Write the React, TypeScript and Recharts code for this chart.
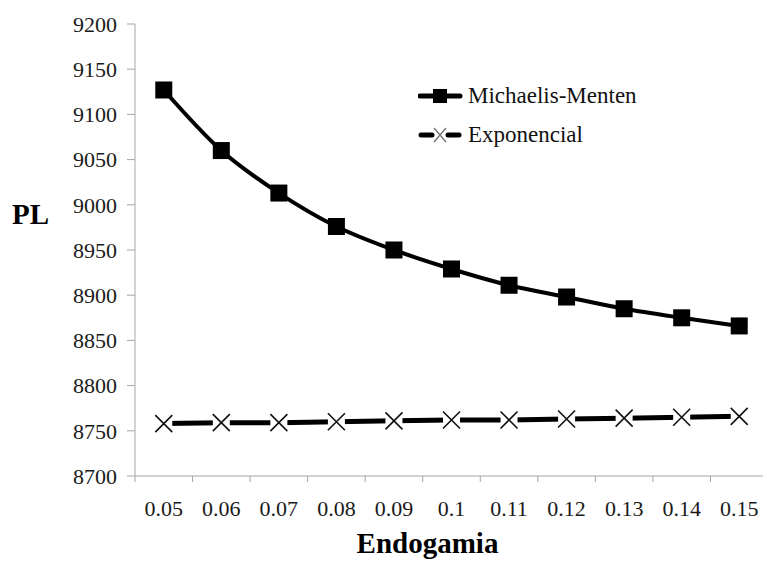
import { LineChart, Line, XAxis, YAxis, Legend, Label } from "recharts";

const categories = ["0.05", "0.06", "0.07", "0.08", "0.09", "0.1", "0.11", "0.12", "0.13", "0.14", "0.15"];
const michaelisMenten = [9127, 9060, 9013, 8976, 8950, 8929, 8911, 8898, 8885, 8875, 8866];
const exponencial = [8758, 8759, 8759, 8760, 8761, 8762, 8762, 8763, 8764, 8765, 8766];
const yTicks = [8700, 8750, 8800, 8850, 8900, 8950, 9000, 9050, 9100, 9150, 9200];
const seriesOrder = ["mm", "exp"];

const data = categories.map((c, i) => ({
  endogamia: c,
  mm: michaelisMenten[i],
  exp: exponencial[i],
}));

const FONT = '"Liberation Serif", "Times New Roman", serif';
const AXIS_GRAY = "#a6a6a6";
const CHART_W = 770;
const CHART_H = 561;
const Y_AXIS_W = 135;
const X_AXIS_H = 85;
const MARGIN = { top: 24, right: 2, bottom: 0, left: 0 };
const PLOT_RIGHT = CHART_W - MARGIN.right;
const AXIS_Y = CHART_H - X_AXIS_H - MARGIN.bottom;
const STEP = (PLOT_RIGHT - Y_AXIS_W) / categories.length;

function XTick(props: any) {
  const { x, payload } = props;
  const bx = x - STEP / 2;
  return (
    <g>
      <line x1={bx} y1={AXIS_Y} x2={bx} y2={AXIS_Y + 6} stroke={AXIS_GRAY} />
      <text x={x} y={AXIS_Y + 40} textAnchor="middle" fontFamily={FONT} fontSize={22} fill="#1a1a1a">
        {payload.value}
      </text>
    </g>
  );
}

function SquareDot(props: any) {
  const { cx, cy } = props;
  if (cx == null || cy == null) return null;
  return <rect x={cx - 8.5} y={cy - 8.5} width={17} height={17} fill="#000" />;
}

function CrossDot(props: any) {
  const { cx, cy } = props;
  if (cx == null || cy == null) return null;
  const s = 8.5;
  return (
    <g>
      <rect x={cx - s} y={cy - s} width={2 * s} height={2 * s} fill="#fff" />
      <path
        d={`M${cx - s},${cy - s}L${cx + s},${cy + s}M${cx + s},${cy - s}L${cx - s},${cy + s}`}
        stroke="#111"
        strokeWidth={1.6}
        fill="none"
      />
    </g>
  );
}

function LegendContent(props: any) {
  const items = [...(props.payload || [])].sort(
    (a: any, b: any) => seriesOrder.indexOf(a.dataKey) - seriesOrder.indexOf(b.dataKey)
  );
  return (
    <div style={{ fontFamily: FONT, fontSize: 23, color: "#111" }}>
      {items.map((entry: any) => (
        <div key={entry.value} style={{ display: "flex", alignItems: "center", height: 39 }}>
          <svg width={46} height={20}>
            {entry.dataKey === "mm" ? (
              <g>
                <line x1={2} y1={10} x2={42} y2={10} stroke="#000" strokeWidth={5} strokeLinecap="round" />
                <rect x={15} y={3} width={14} height={14} fill="#000" />
              </g>
            ) : (
              <g>
                <line x1={3} y1={10} x2={14} y2={10} stroke="#000" strokeWidth={5} strokeLinecap="round" />
                <line x1={30} y1={10} x2={41} y2={10} stroke="#000" strokeWidth={5} strokeLinecap="round" />
                <path d="M16,3L28,17M28,3L16,17" stroke="#777" strokeWidth={1.4} fill="none" />
              </g>
            )}
          </svg>
          <span style={{ marginLeft: 4 }}>{entry.value}</span>
        </div>
      ))}
    </div>
  );
}

export default function App() {
  return (
    <div style={{ position: "absolute", left: 0, top: 0, width: 763, height: 561, overflow: "hidden", background: "#fff" }}>
      <LineChart width={CHART_W} height={CHART_H} data={data} margin={MARGIN}>
        <XAxis
          dataKey="endogamia"
          scale="band"
          height={X_AXIS_H}
          tickSize={8}
          tickLine={false}
          tick={<XTick />}
          axisLine={{ stroke: AXIS_GRAY }}
          interval={0}
        >
          <Label
            value="Endogamia"
            position="insideBottom"
            offset={8}
            dx={-24}
            style={{ fontFamily: FONT, fontSize: 29, fontWeight: "bold", fill: "#000" }}
          />
        </XAxis>
        <YAxis
          width={Y_AXIS_W}
          domain={[8700, 9200]}
          ticks={yTicks}
          interval={0}
          tickSize={8}
          tickMargin={10}
          axisLine={{ stroke: AXIS_GRAY }}
          tickLine={{ stroke: AXIS_GRAY }}
          tick={{ fontFamily: FONT, fontSize: 22, fill: "#1a1a1a" }}
        >
          <Label
            value="PL"
            position="insideLeft"
            offset={12}
            dy={-36}
            style={{ fontFamily: FONT, fontSize: 29, fontWeight: "bold", fill: "#000" }}
          />
        </YAxis>
        <Legend
          layout="horizontal"
          verticalAlign="middle"
          align="center"
          content={<LegendContent />}
          wrapperStyle={{ top: 76, left: 418, width: "auto" }}
        />
        <Line
          dataKey="mm"
          name="Michaelis-Menten"
          type="monotone"
          stroke="#000"
          strokeWidth={4}
          dot={<SquareDot />}
          activeDot={false}
          isAnimationActive={false}
        />
        <Line
          dataKey="exp"
          name="Exponencial"
          type="linear"
          stroke="#000"
          strokeWidth={5}
          dot={<CrossDot />}
          activeDot={false}
          isAnimationActive={false}
        />
      </LineChart>
    </div>
  );
}
